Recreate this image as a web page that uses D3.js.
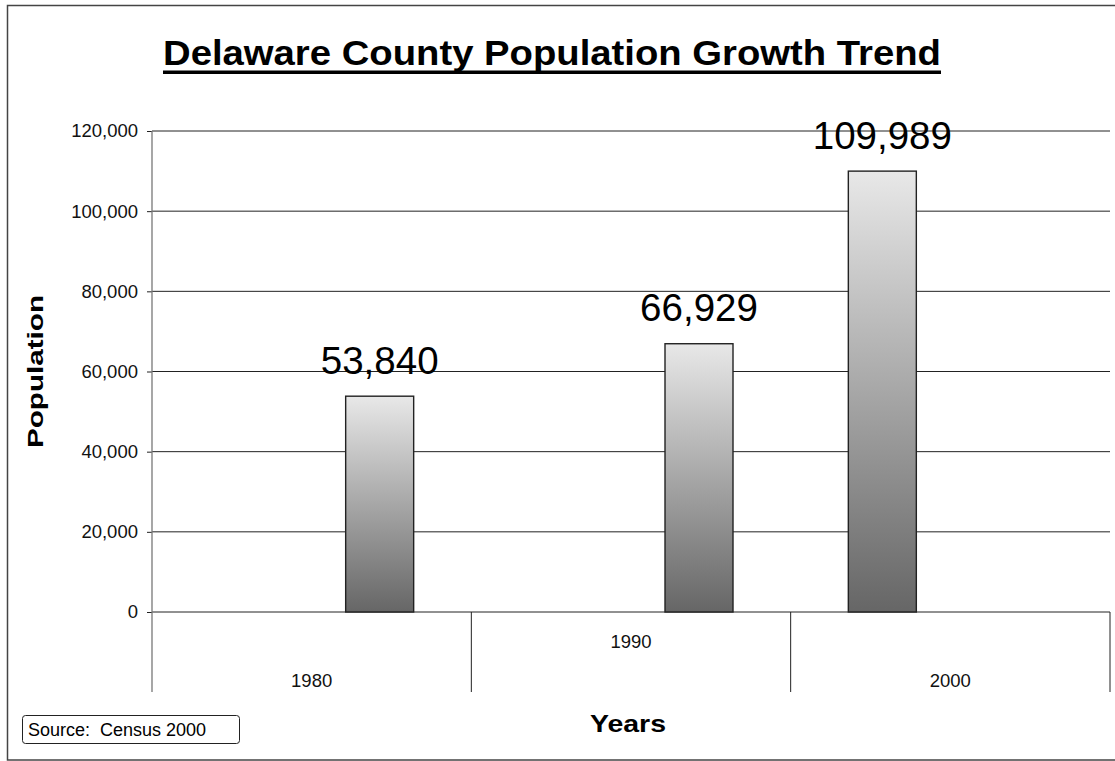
<!DOCTYPE html>
<html>
<head>
<meta charset="utf-8">
<script src="https://cdn.jsdelivr.net/npm/d3@7"></script>
<style>
  html, body { margin: 0; padding: 0; background: #fff; }
  svg { display: block; font-family: "Liberation Sans", Arial, sans-serif; }
  .pre { white-space: pre; }
</style>
</head>
<body>
<svg id="chart" width="1115" height="761"></svg>
<script>
// ---- data ----
const years = ["1980", "1990", "2000"];
const seriesNames = ["Series 1", "Series 2", "Series 3"];
const series1 = [null, null, 109989];
const series2 = [null, null, null];
const series3 = [53840, 66929, null];
const yTicks = [0, 20000, 40000, 60000, 80000, 100000, 120000];
const titleText = "Delaware County Population Growth Trend";
const yTitle = "Population";
const xTitle = "Years";
const sourceText = "Source:  Census 2000";

const seriesValues = [series1, series2, series3];

// ---- layout ----
const svg = d3.select("#chart");
const plot = { left: 152, right: 1110, top: 131, bottom: 612 };
const catAxisBottom = 692;

const defs = svg.append("defs");
const grad = defs.append("linearGradient")
  .attr("id", "barGrad").attr("x1", 0).attr("y1", 0).attr("x2", 0).attr("y2", 1);
grad.append("stop").attr("offset", "0%").attr("stop-color", "#e8e8e8");
grad.append("stop").attr("offset", "100%").attr("stop-color", "#666666");

// outer frame
svg.append("rect")
  .attr("x", 7.5).attr("y", 5.5).attr("width", 1120).attr("height", 754.5)
  .attr("fill", "none").attr("stroke", "#444").attr("stroke-width", 1.5);

// scales
const x0 = d3.scaleBand().domain(years).range([plot.left, plot.right]).paddingInner(0).paddingOuter(0);
const x1 = d3.scaleBand().domain(seriesNames).range([0, x0.bandwidth()]).paddingInner(0).paddingOuter(0.848);
const y = d3.scaleLinear().domain([0, 120000]).range([plot.bottom, plot.top]);

// gridlines
svg.append("g").selectAll("line").data(yTicks).join("line")
  .attr("x1", plot.left).attr("x2", plot.right)
  .attr("y1", d => y(d)).attr("y2", d => y(d))
  .attr("stroke", "#222").attr("stroke-width", 1);

// y axis
const yAxis = svg.append("g")
  .attr("transform", `translate(${plot.left},0)`)
  .call(d3.axisLeft(y).tickValues(yTicks).tickSize(5).tickPadding(9)
    .tickFormat(d3.format(",")));
yAxis.select(".domain").remove();
yAxis.selectAll(".tick line").attr("stroke", "#222");
yAxis.selectAll(".tick text")
  .attr("font-size", 18.5).attr("fill", "#111")
  .attr("font-family", "Liberation Sans, Arial, sans-serif");

// y axis line (extends through category area)
svg.append("line")
  .attr("x1", plot.left).attr("x2", plot.left)
  .attr("y1", plot.top).attr("y2", catAxisBottom)
  .attr("stroke", "#777").attr("stroke-width", 1.3);

// category separators
const seps = years.map(d => x0(d) + x0.bandwidth());
svg.append("g").selectAll("line").data(seps).join("line")
  .attr("x1", d => d).attr("x2", d => d)
  .attr("y1", plot.bottom).attr("y2", catAxisBottom)
  .attr("stroke", "#222").attr("stroke-width", 1);

// category labels (staggered)
svg.append("g").selectAll("text").data(years).join("text")
  .attr("x", d => x0(d) + x0.bandwidth() / 2)
  .attr("y", (d, i) => i % 2 === 0 ? 687 : 648)
  .attr("text-anchor", "middle")
  .attr("font-size", 18.5).attr("fill", "#111")
  .text(d => d);

// bars
const barData = [];
years.forEach((yr, i) => {
  seriesNames.forEach((s, j) => {
    const v = seriesValues[j][i];
    if (v != null) barData.push({ year: yr, series: s, value: v });
  });
});

svg.append("g").selectAll("rect").data(barData).join("rect")
  .attr("x", d => x0(d.year) + x1(d.series))
  .attr("width", x1.bandwidth())
  .attr("y", d => y(d.value))
  .attr("height", d => y(0) - y(d.value))
  .attr("fill", "url(#barGrad)")
  .attr("stroke", "#222").attr("stroke-width", 1.4);

// value labels
svg.append("g").selectAll("text").data(barData).join("text")
  .attr("x", d => x0(d.year) + x1(d.series) + x1.bandwidth() / 2)
  .attr("y", d => y(d.value) - 22.5)
  .attr("text-anchor", "middle")
  .attr("font-size", 38.5).attr("fill", "#000")
  .text(d => d3.format(",")(d.value));

// title
svg.append("text")
  .attr("x", 552).attr("y", 65)
  .attr("text-anchor", "middle")
  .attr("font-size", 35).attr("font-weight", "bold").attr("fill", "#000")
  .attr("textLength", 778).attr("lengthAdjust", "spacingAndGlyphs")
  .text(titleText);
svg.append("rect")
  .attr("x", 552 - 778 / 2).attr("y", 70.5).attr("width", 778).attr("height", 3.5)
  .attr("fill", "#000");

// y title
svg.append("text")
  .attr("transform", `translate(43,${(plot.top + plot.bottom) / 2}) rotate(-90)`)
  .attr("text-anchor", "middle")
  .attr("font-size", 22).attr("font-weight", "bold").attr("fill", "#000")
  .attr("textLength", 153).attr("lengthAdjust", "spacingAndGlyphs")
  .text(yTitle);

// x title
svg.append("text")
  .attr("x", 628).attr("y", 732)
  .attr("text-anchor", "middle")
  .attr("font-size", 24).attr("font-weight", "bold").attr("fill", "#000")
  .attr("textLength", 76).attr("lengthAdjust", "spacingAndGlyphs")
  .text(xTitle);

// source box
svg.append("rect")
  .attr("x", 22.5).attr("y", 715.5).attr("width", 217).attr("height", 28)
  .attr("rx", 3).attr("ry", 3)
  .attr("fill", "#fff").attr("stroke", "#222").attr("stroke-width", 1);
svg.append("text")
  .attr("class", "pre")
  .attr("x", 28).attr("y", 736)
  .attr("font-size", 18).attr("fill", "#000")
  .text(sourceText);
</script>
</body>
</html>
